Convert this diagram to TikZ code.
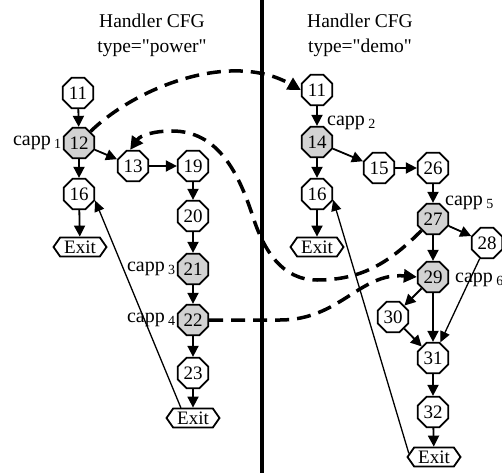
\documentclass[tikz,border=0pt]{standalone}
\usepackage{fontspec}
\setmainfont{Liberation Serif}
\newfontfamily\plainserif{Liberation Serif}
\usetikzlibrary{arrows.meta,shapes.geometric,shapes.symbols}
\newcommand\cappl[1]{capp\,\textsubscript{#1}}
\begin{document}
\begin{tikzpicture}[x=1pt,y=-1pt,
  oct/.style={draw,line width=1.8pt,regular polygon,regular polygon sides=8,minimum size=33pt,inner sep=0pt,fill=white,font=\fontsize{19}{19}\selectfont},
  capnode/.style={oct,fill=gray!35},
  exitbox/.style={draw,line width=1.8pt,signal,signal to=west and east,signal pointer angle=110,minimum height=19pt,minimum width=53pt,inner sep=1pt,fill=white,font=\fontsize{19}{19}\selectfont},
  edge/.style={line width=1.8pt,-{Triangle[length=11pt,width=11pt]}},
  back/.style={line width=1.3pt,-{Triangle[length=11pt,width=10pt]}},
  call/.style={line width=3.5pt,dash pattern=on 14pt off 8pt,-{Triangle[length=13pt,width=13pt]}},
  lab/.style={font=\fontsize{20}{20}\selectfont,inner sep=1pt},
  title/.style={font=\plainserif\fontsize{19.5}{25}\selectfont,align=center}
]
\useasboundingbox (0,0) rectangle (502,473);
% titles
\node[title] (tl) at (152,35) {Handler CFG\\type="power"};
\node[title] (tr) at (360,35) {Handler CFG\\type="demo"};
% divider
\coordinate (dtop) at (262,0);
\coordinate (dbot) at (262,473);
\draw[line width=3.5pt] (dtop) -- (dbot);
% left CFG
\node[oct] (l11) at (78,93) {11};
\node[capnode] (l12) at (79,143) {12};
\node[oct] (l13) at (133,166) {13};
\node[oct] (l19) at (193,166) {19};
\node[oct] (l16) at (79,194) {16};
\node[exitbox] (lex1) at (80,247) {Exit};
\node[oct] (l20) at (193,216) {20};
\node[capnode] (l21) at (193,269) {21};
\node[capnode] (l22) at (193,320) {22};
\node[oct] (l23) at (193,373) {23};
\node[exitbox] (lex2) at (193,418) {Exit};
% right CFG
\node[oct] (r11) at (317,90) {11};
\node[capnode] (r14) at (317,142) {14};
\node[oct] (r15) at (379,168) {15};
\node[oct] (r26) at (433,168) {26};
\node[oct] (r16) at (317,194) {16};
\node[exitbox] (rex1) at (317,247) {Exit};
\node[capnode] (r27) at (433,219) {27};
\node[oct] (r28) at (487,243) {28};
\node[capnode] (r29) at (433,277) {29};
\node[oct] (r30) at (393,317) {30};
\node[oct] (r31) at (433,358) {31};
\node[oct] (r32) at (433,412) {32};
\node[exitbox] (rex2) at (434,457) {Exit};
% labels
\node[lab,anchor=east] (c1) at (l12.west) {\cappl{1}};
\node[lab,anchor=west] (c2) at (326,123) {\cappl{2}};
\node[lab,anchor=east] (c3) at (l21.west) {\cappl{3}};
\node[lab,anchor=east] (c4) at (l22.west) {\cappl{4}};
\node[lab,anchor=west] (c5) at (444,203) {\cappl{5}};
\node[lab,anchor=west] (c6) at (454,280) {\cappl{6}};
% left edges
\draw[edge] (l11) -- (l12);
\draw[edge] (l12) -- (l16);
\draw[edge] (l12) -- (l13);
\draw[edge] (l13) -- (l19);
\draw[edge] (l16) -- (lex1);
\draw[edge] (l19) -- (l20);
\draw[edge] (l20) -- (l21);
\draw[edge] (l21) -- (l22);
\draw[edge] (l22) -- (l23);
\draw[edge] (l23) -- (lex2);
\draw[back] (lex2.140) -- (l16.-22);
% right edges
\draw[edge] (r11) -- (r14);
\draw[edge] (r14) -- (r16);
\draw[edge] (r14) -- (r15);
\draw[edge] (r15) -- (r26);
\draw[edge] (r16) -- (rex1);
\draw[edge] (r26) -- (r27);
\draw[edge] (r27) -- (r28);
\draw[edge] (r27) -- (r29);
\draw[edge] (r29) -- (r30);
\draw[edge] (r29) -- (r31);
\draw[edge] (r30) -- (r31);
\draw[back] (r28) -- (r31);
\draw[edge] (r31) -- (r32);
\draw[edge] (r32) -- (rex2);
\draw[back] (rex2.172) -- (r16.-20);
% inter-handler calls
\draw[call] (l12.north east) .. controls (135,88) and (230,50) .. (r11.west);
\coordinate (m1) at (317,280);
\coordinate (m2) at (253,217);
\coordinate (m3) at (172,131);
\draw[call] (r27.225) to[out=225,in=0] (m1) to[out=180,in=-72] (m2) to[out=108,in=0] (m3) to[out=180,in=55] (l13.100);
\coordinate (m4) at (280,320);
\draw[call] (l22.east) -- (m4) .. controls (340,320) and (360,272) .. (r29.west);
\end{tikzpicture}
\end{document}
